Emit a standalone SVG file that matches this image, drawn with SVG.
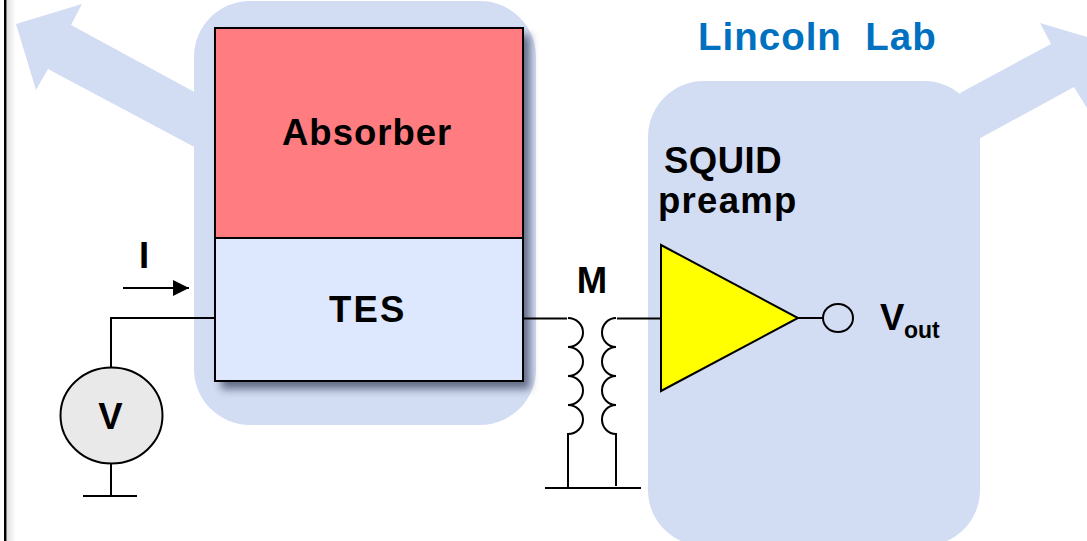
<svg xmlns="http://www.w3.org/2000/svg" width="1087" height="541" viewBox="0 0 1087 541">
<defs>
<linearGradient id="edge" x1="0" x2="1" y1="0" y2="0"><stop offset="0" stop-color="#e2e2e2"/><stop offset="1" stop-color="#ffffff"/></linearGradient>
<filter id="sh" x="-10%" y="-10%" width="125%" height="125%"><feGaussianBlur stdDeviation="4"/></filter>
<marker id="ah" markerUnits="userSpaceOnUse" markerWidth="16" markerHeight="16" refX="16" refY="8" orient="auto"><path d="M0 0L16 8L0 16Z" fill="#000"/></marker>
</defs>
<style>
.p{fill:#d2dcf3}
.c{fill:none;stroke:#000;stroke-width:2}
text{font-family:"Liberation Sans",Arial,sans-serif;font-weight:700;fill:#000}
.t{font-size:36.500px}
</style>
<rect width="1087" height="541" fill="#fff"/>
<rect x="7" y="0" width="9" height="541" fill="url(#edge)"/>
<rect x="4" y="0" width="2.500" height="541" fill="#000"/>
<g id="panels">
<path class="p" d="M16 24L82 4L71 25L200 95V150L48 69L36 90Z"/>
<path class="p" d="M960 93L1051 44L1040 23L1110 44L1087 108L1074 87L975 141Z"/>
<rect class="p" x="194" y="1" width="342" height="424" rx="56"/>
<path class="p" d="M704 81H924A56 56 0 0 1 980 137V490A56 56 0 0 1 924 546H704A56 56 0 0 1 648 490V137A56 56 0 0 1 704 81Z"/>
</g>
<rect x="221" y="35" width="309" height="354" fill="#46506a" opacity=".8" filter="url(#sh)"/>
<g id="connectors">
<path class="c" d="M215 318H111V380"/>
<path class="c" d="M111 463V495M83 496H137"/>
<path class="c" d="M123 288H189" marker-end="url(#ah)"/>
<path class="c" d="M523 318.500H567"/>
<path class="c" d="M568 318A15 14.500 0 0 1 568 347A15 14.500 0 0 1 568 376A15 14.500 0 0 1 568 405A15 14.500 0 0 1 568 434V488"/>
<path class="c" d="M616 318A14 14.500 0 0 0 616 347A14 14.500 0 0 0 616 376A14 14.500 0 0 0 616 405A14 14.500 0 0 0 616 434V486"/>
<path class="c" d="M617 318.500H661"/>
<path class="c" d="M545 488H641"/>
<path class="c" d="M797 318H823"/>
</g>
<g id="absorber"><rect x="215" y="28" width="308" height="210" fill="#ff7c80" stroke="#000" stroke-width="2"/><text class="t" x="282" y="144.500" style="letter-spacing:1px">Absorber</text></g>
<g id="tes"><rect x="215" y="238" width="308" height="143" fill="#dde7fd" stroke="#000" stroke-width="2"/><text class="t" x="329" y="321.500" style="letter-spacing:2.200px">TES</text></g>
<g id="source"><ellipse cx="111.500" cy="415.500" rx="51" ry="48" fill="#e9e9e9" stroke="#000" stroke-width="2"/><text x="110.500" y="429" text-anchor="middle" class="t">V</text></g>
<g id="amp"><path d="M661 245L798 318L661 391Z" fill="#ff0" stroke="#000" stroke-width="2"/></g>
<g id="out"><ellipse cx="838" cy="318" rx="15" ry="14" fill="none" stroke="#000" stroke-width="2"/></g>
<g id="labels">
<text x="698" y="50" font-size="38.500" xml:space="preserve" style="fill:#0070c0;white-space:pre;letter-spacing:1px">Lincoln  Lab</text>
<text class="t" x="664" y="172.500" style="letter-spacing:.5px">SQUID</text>
<text class="t" x="658" y="212.500" style="letter-spacing:1.300px">preamp</text>
<text class="t" x="144" y="268" text-anchor="middle">I</text>
<text class="t" x="592" y="293" text-anchor="middle">M</text>
<text class="t" x="880" y="330">V</text>
<text x="904" y="338" font-size="23">out</text>
</g>
</svg>
